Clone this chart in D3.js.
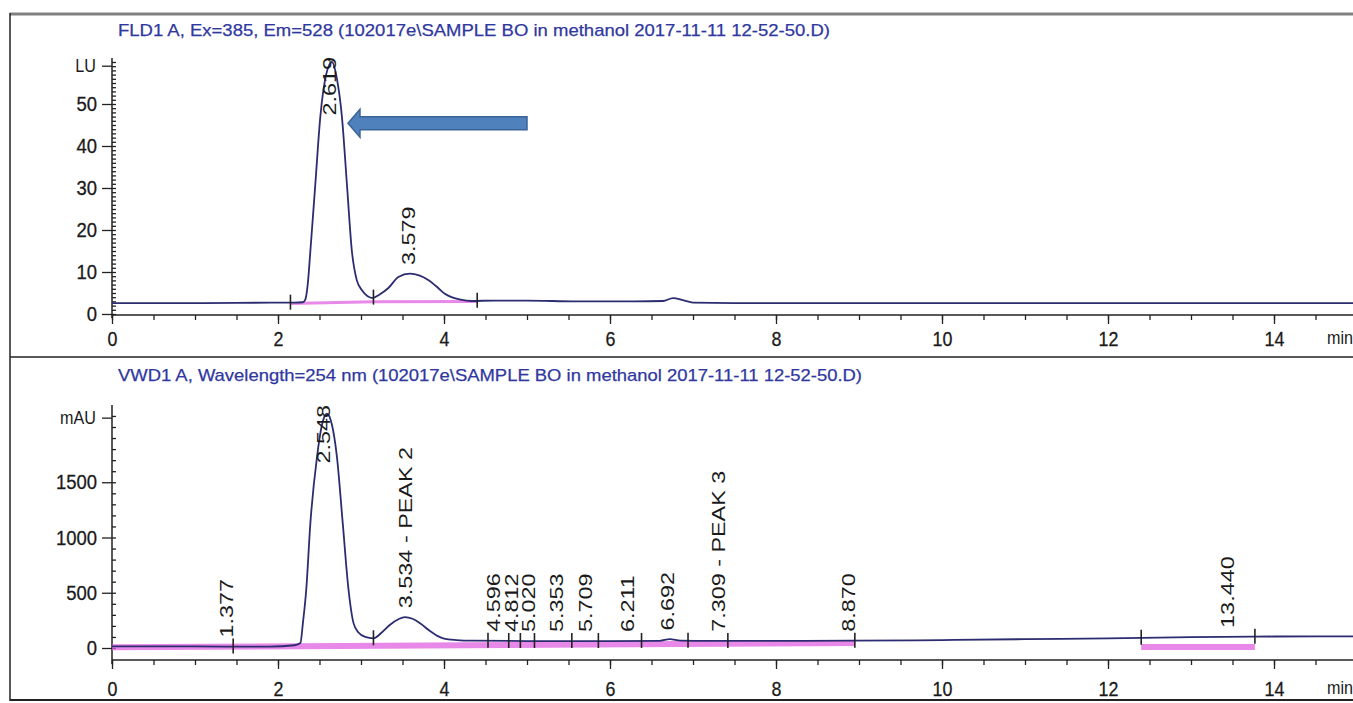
<!DOCTYPE html>
<html>
<head>
<meta charset="utf-8">
<script src="https://cdn.jsdelivr.net/npm/d3@7"></script>
<style>
  body { margin: 0; background: #fff; }
  svg { display: block; }
</style>
</head>
<body>
<div id="chart"></div>
<script>
// FLD trace (top): time in min, signal in LU
const fldTime = [0, 1, 2, 2.2, 2.3, 2.33, 2.36, 2.39, 2.45, 2.51, 2.58, 2.65, 2.71, 2.77, 2.83, 2.89, 2.95, 3.01, 3.08, 3.14,
  3.22, 3.33, 3.45, 3.59, 3.7, 3.81, 3.93, 4.01, 4.09, 4.2, 4.33, 4.6, 5, 5.6, 6.3, 6.64, 6.76, 6.88, 7.0, 7.5, 9, 11, 13, 15];
const fldSignal = [2.6, 2.6, 2.7, 2.7, 2.8, 3.5, 7.4, 15, 31, 47, 57, 60, 56, 47, 31, 15, 8, 5.7, 4.2, 3.8,
  4.6, 6.2, 8.8, 9.6, 9.2, 8.1, 6.2, 4.8, 4.0, 3.4, 3.1, 3.2, 3.2, 3.0, 3.0, 3.1, 3.8, 3.3, 2.7, 2.6, 2.6, 2.6, 2.6, 2.6];

// VWD trace (bottom): time in min, signal in mAU
const vwdTime = [0, 1, 1.9, 2.2, 2.27, 2.3, 2.34, 2.39, 2.47, 2.53, 2.59, 2.65, 2.71, 2.78, 2.85, 2.91, 2.97, 3.05, 3.15,
  3.25, 3.35, 3.45, 3.53, 3.62, 3.72, 3.82, 3.92, 4.0, 4.15, 4.35, 5, 6, 6.6, 6.72, 6.85, 7.5, 8.9, 10, 11, 12, 13, 14, 15];
const vwdSignal = [15, 14, 12, 25, 45, 225, 525, 1130, 1730, 2020, 2120, 2020, 1730, 1130, 525, 225, 140, 100, 88,
  140, 210, 260, 280, 265, 220, 160, 110, 85, 72, 66, 63, 63, 65, 80, 66, 64, 66, 72, 80, 88, 98, 104, 106];

// peak labels
const fldPeakTimes = [2.619, 3.579];
const fldPeakLabels = ["2.619", "3.579"];
const vwdPeakTimes = [1.377, 2.548, 3.534, 4.596, 4.812, 5.020, 5.353, 5.709, 6.211, 6.692, 7.309, 8.870, 13.440];
const vwdPeakLabels = ["1.377", "2.548", "3.534 - PEAK 2", "4.596", "4.812", "5.020", "5.353", "5.709", "6.211",
  "6.692", "7.309 - PEAK 3", "8.870", "13.440"];

// integration events and baselines
const fldEvents = [2.15, 3.15, 4.4];
const fldBaseTime = [2.15, 3.15, 4.4];
const fldBaseValue = [2.5, 2.9, 3.0];
const vwdEvents = [1.46, 3.15, 4.53, 4.78, 4.92, 5.09, 5.54, 5.86, 6.38, 6.94, 7.42, 8.95, 12.4, 13.77];
const vwdBaseTime = [0, 8.95];
const vwdBaseValue = [6, 45];
const vwdBase2Time = [12.4, 13.77];
const vwdBase2Value = [8, 8];

// axes
const xMajor = [0, 2, 4, 6, 8, 10, 12, 14];
const fldYMajor = [0, 10, 20, 30, 40, 50];
const vwdYMajor = [0, 500, 1000, 1500];

const fldTitle = "FLD1 A, Ex=385, Em=528 (102017e\\SAMPLE BO in methanol 2017-11-11 12-52-50.D)";
const vwdTitle = "VWD1 A, Wavelength=254 nm (102017e\\SAMPLE BO in methanol 2017-11-11 12-52-50.D)";

const width = 1353, height = 703;
const FONT = "'Liberation Sans', Arial, sans-serif";
const navy = "#2c2c70";
const pink = "#e060e0";

const svg = d3.select("#chart").append("svg")
  .attr("width", width)
  .attr("height", height);

svg.append("rect").attr("width", width).attr("height", height).attr("fill", "#fff");

const x = d3.scaleLinear().domain([0, 15]).range([112, 112 + 15 * 83]);
const yTop = d3.scaleLinear().domain([0, 60]).range([314, 62]);
const yBot = d3.scaleLinear().domain([0, 2000]).range([648, 427]);

// frame
svg.append("line").attr("x1", 10).attr("x2", width).attr("y1", 14).attr("y2", 14)
  .attr("stroke", "#808080").attr("stroke-width", 3);
svg.append("line").attr("x1", 10).attr("x2", 10).attr("y1", 13).attr("y2", 701)
  .attr("stroke", "#222").attr("stroke-width", 1.5);
svg.append("line").attr("x1", 10).attr("x2", width).attr("y1", 357).attr("y2", 357)
  .attr("stroke", "#222").attr("stroke-width", 1.5);
svg.append("line").attr("x1", 10).attr("x2", width).attr("y1", 700).attr("y2", 700)
  .attr("stroke", "#222").attr("stroke-width", 2);

// titles
function title(txt, yy, len) {
  svg.append("text")
    .attr("x", 118).attr("y", yy)
    .attr("font-family", FONT).attr("font-size", 17)
    .attr("fill", "#3038a0")
    .attr("stroke", "#3038a0").attr("stroke-width", 0.25)
    .attr("textLength", len).attr("lengthAdjust", "spacingAndGlyphs")
    .text(txt);
}
title(fldTitle, 36, 712);
title(vwdTitle, 381, 744);

// squeeze tick text horizontally like the picture
function squeeze(sel, sx) {
  sel.selectAll(".tick text")
    .attr("font-family", FONT).attr("font-size", 21).attr("fill", "#1a1a1a")
    .attr("stroke", "#1a1a1a").attr("stroke-width", 0.3)
    .attr("transform", "scale(" + sx + ",1)");
}

function xAxis(yPos, pad) {
  const g = svg.append("g").attr("transform", "translate(0," + yPos + ")");
  g.append("g")
    .call(d3.axisBottom(x).tickValues(d3.range(0, 15.01, 0.5)).tickSize(5).tickFormat(""))
    .call(s => s.select(".domain").remove());
  const major = g.append("g")
    .call(d3.axisBottom(x).tickValues(xMajor).tickSize(9).tickPadding(pad).tickFormat(d3.format("d")))
    .call(s => s.select(".domain").remove());
  squeeze(major, 0.85);
  g.selectAll("line").attr("stroke", "#222").attr("stroke-width", 1.3);
  g.append("line").attr("x1", x(0)).attr("x2", width).attr("stroke", "#222").attr("stroke-width", 1.5);
  g.append("text").attr("x", 1327 / 0.85).attr("y", pad + 9).attr("dy", "0.71em")
    .attr("font-family", FONT).attr("font-size", 19).attr("fill", "#1a1a1a")
    .attr("transform", "scale(0.85,1)")
    .text("min");
}

function yAxis(y, majors, minorStep, maxVal, unit, unitVal, axTop, axBottom) {
  const g = svg.append("g").attr("transform", "translate(" + x(0) + ",0)");
  g.append("g")
    .call(d3.axisRight(y).tickValues(d3.range(0, maxVal + 0.01, minorStep)).tickSize(4).tickFormat(""))
    .call(s => s.select(".domain").remove());
  const major = g.append("g")
    .call(d3.axisLeft(y).tickValues(majors).tickSize(10).tickPadding(7).tickFormat(d3.format("d")))
    .call(s => s.select(".domain").remove());
  squeeze(major, 0.88);
  const u = g.append("g").attr("transform", "translate(0," + y(unitVal) + ")");
  u.append("line").attr("x1", -10).attr("x2", 0);
  u.append("text").attr("x", -19).attr("dy", "0.32em")
    .attr("text-anchor", "end").attr("font-family", FONT).attr("font-size", 19)
    .attr("fill", "#1a1a1a").attr("transform", "scale(0.85,1)")
    .text(unit);
  g.selectAll("line").attr("stroke", "#222").attr("stroke-width", 1.3);
  g.append("line").attr("y1", axTop).attr("y2", axBottom).attr("stroke", "#222").attr("stroke-width", 1.5);
}

xAxis(315, 7);
xAxis(660, 12);
yAxis(yTop, fldYMajor, 1, 60, "LU", 59, 58, 318);
yAxis(yBot, vwdYMajor, 100, 2100, "mAU", 2080, 405, 664);

// value of a trace at time t (for placing labels / event marks)
function valueAt(times, vals, t) {
  const i = Math.max(1, Math.min(times.length - 1, d3.bisectLeft(times, t)));
  const f = (t - times[i - 1]) / (times[i] - times[i - 1]);
  return vals[i - 1] + f * (vals[i] - vals[i - 1]);
}

function panel(y, times, vals, baseSets, baseWidth, events, peakTimes, peakLabels, topLimit) {
  const g = svg.append("g");
  const line = d3.line().x(d => x(d[0])).y(d => y(d[1]));

  baseSets.forEach(b => {
    g.append("path")
      .datum(d3.zip(b[0], b[1]))
      .attr("fill", "none").attr("stroke", pink).attr("stroke-opacity", 0.75)
      .attr("stroke-width", baseWidth)
      .attr("d", line);
  });

  g.append("path")
    .datum(d3.zip(times, vals))
    .attr("fill", "none")
    .attr("stroke", navy)
    .attr("stroke-width", 1.8)
    .attr("d", line.curve(d3.curveMonotoneX));

  events.forEach(t => {
    const yy = y(valueAt(times, vals, t));
    g.append("line")
      .attr("x1", x(t)).attr("x2", x(t))
      .attr("y1", yy - 8).attr("y2", yy + 7)
      .attr("stroke", "#222").attr("stroke-width", 1.6);
  });

  const sx = 1.3;
  peakTimes.forEach((t, i) => {
    const el = g.append("text")
      .attr("font-family", FONT).attr("font-size", 18).attr("fill", "#1a1a1a")
      .attr("dy", "0.35em")
      .text(peakLabels[i]);
    const len = el.node().getComputedTextLength() * sx;
    let y0 = y(valueAt(times, vals, t)) - 9;
    if (y0 - len < topLimit) y0 = topLimit + len;
    el.attr("transform", "translate(" + x(t) + "," + y0 + ") rotate(-90) scale(" + sx + ",1)");
  });
}

panel(yTop, fldTime, fldSignal, [[fldBaseTime, fldBaseValue]], 3, fldEvents, fldPeakTimes, fldPeakLabels, 57);
panel(yBot, vwdTime, vwdSignal, [[vwdBaseTime, vwdBaseValue], [vwdBase2Time, vwdBase2Value]], 6, vwdEvents,
  vwdPeakTimes, vwdPeakLabels, 405);

// blue arrow pointing at the 2.619 peak
const tipX = x(2.843), tailX = x(5.0), cy = yTop(45.4);
const headBack = tipX + 12, shaft = 6.5, head = 14;
svg.append("polygon")
  .attr("points", [
    [tipX, cy], [headBack, cy - head], [headBack, cy - shaft], [tailX, cy - shaft],
    [tailX, cy + shaft], [headBack, cy + shaft], [headBack, cy + head]
  ].map(p => p.join(",")).join(" "))
  .attr("fill", "#4f81bd")
  .attr("stroke", "#3a649a")
  .attr("stroke-width", 1.5);
</script>
</body>
</html>
